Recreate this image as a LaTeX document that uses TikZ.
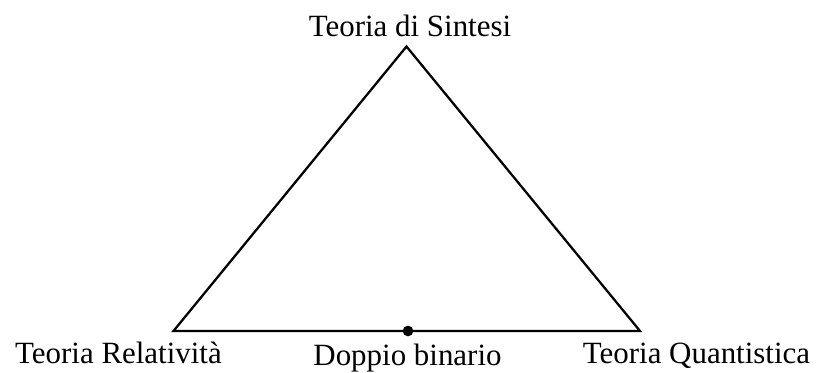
\documentclass[tikz,border=0pt]{standalone}
\usepackage{fontspec}
\setmainfont{Liberation Serif}

\begin{document}
\begin{tikzpicture}[x=0.75pt, y=0.75pt, every node/.style={font=\fontsize{23.2}{28}\selectfont}]
  \useasboundingbox (0,0) rectangle (818,372);

  % Vertices of the triangle
  \coordinate (sintesi) at (406.5,325.5);
  \coordinate (relativita) at (173.5,41);
  \coordinate (quantistica) at (640,41);

  % Sides
  \draw[line width=1.7pt, line join=miter] (relativita) -- (sintesi) -- (quantistica) -- cycle;

  % Dot on the base
  \node[circle, fill, inner sep=0pt, minimum size=8pt] (binario) at (408,41) {};

  % Labels
  \node[anchor=base] (lsintesi) at (410,335) {Teoria di Sintesi};
  \node[anchor=base] (lrelativita) at (118.5,9) {Teoria Relatività};
  \node[anchor=base] (lbinario) at (407.5,7) {Doppio binario};
  \node[anchor=base] (lquantistica) at (696.5,9) {Teoria Quantistica};
\end{tikzpicture}
\end{document}
